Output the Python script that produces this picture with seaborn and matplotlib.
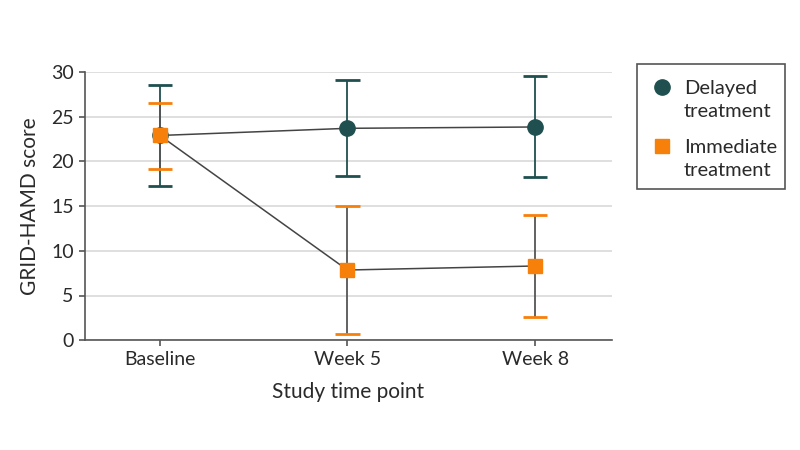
import pandas as pd
import seaborn as sns
import matplotlib.pyplot as plt
from matplotlib.patches import Rectangle
from matplotlib.lines import Line2D

# Datos
timepoints = ["Baseline", "Week 5", "Week 8"]
delayed_mean = [22.9, 23.7, 23.85]
delayed_low = [17.3, 18.4, 18.3]
delayed_high = [28.55, 29.15, 29.5]
immediate_mean = [22.9, 7.85, 8.3]
immediate_low = [19.2, 0.7, 2.65]
immediate_high = [26.5, 15.05, 14.0]
groups = ["Delayed\ntreatment", "Immediate\ntreatment"]

data = pd.DataFrame({
    "time": timepoints * 2,
    "group": [groups[0]] * 3 + [groups[1]] * 3,
    "score": delayed_mean + immediate_mean,
    "low": delayed_low + immediate_low,
    "high": delayed_high + immediate_high,
})
data["x"] = data["time"].map({t: i for i, t in enumerate(timepoints)})

sns.set_theme(style="white")
plt.rcParams["font.family"] = ["Lato", "DejaVu Sans"]

colors = {groups[0]: "#1f4f4f", groups[1]: "#f7800a"}
markers = {groups[0]: "o", groups[1]: "s"}
msize = {groups[0]: 11, groups[1]: 10.5}
bar_line = {groups[0]: "#1f4f4f", groups[1]: "#555555"}
txt = "#2a2a2a"

fig = plt.figure(figsize=(8, 4.5), dpi=100)
ax = fig.add_axes([0.106, 0.244, 0.659, 0.596])

for g in groups:
    sub = data[data["group"] == g]
    # barras de error: linea vertical y tapas
    ax.vlines(sub["x"], sub["low"], sub["high"], color=bar_line[g], lw=1.3, zorder=2)
    ax.hlines(sub["low"], sub["x"] - 0.065, sub["x"] + 0.065, color=colors[g], lw=2, zorder=2)
    ax.hlines(sub["high"], sub["x"] - 0.065, sub["x"] + 0.065, color=colors[g], lw=2, zorder=2)

for g in groups:
    sub = data[data["group"] == g]
    sns.lineplot(x="x", y="score", data=sub, ax=ax, color="#444444", lw=1.1,
                 zorder=3, legend=False)
    ax.plot(sub["x"], sub["score"], ls="none", marker=markers[g],
            markersize=msize[g], color=colors[g], zorder=4)

ax.set_xlim(-0.4, 2.41)
ax.set_ylim(0, 30)
ax.set_xticks(range(3))
ax.set_xticklabels(timepoints)
ax.set_yticks(range(0, 31, 5))
ax.yaxis.grid(True, color="#d9d9d9", lw=1.2)
ax.set_axisbelow(True)
for s in ["top", "right"]:
    ax.spines[s].set_visible(False)
for s in ["left", "bottom"]:
    ax.spines[s].set_color("#555555")
    ax.spines[s].set_linewidth(1.2)
ax.tick_params(axis="both", length=4, color="#555555", width=1.2, pad=4,
               labelsize=14, colors=txt, left=True, bottom=True)
ax.set_xlabel("Study time point", fontsize=15, color=txt, labelpad=10)
ax.set_ylabel("GRID-HAMD score", fontsize=15, color=txt, labelpad=8)

# Leyenda hecha a mano (marcador alineado con la primera linea)
W, H = 800, 450
fig.patches.append(Rectangle((637 / W, 1 - 189 / H), 148 / W, 125 / H,
                             transform=fig.transFigure, fill=False,
                             edgecolor="#555555", lw=1.2))
for g, ytop in zip(groups, [87, 146]):
    yf = 1 - ytop / H
    fig.lines.append(Line2D([662 / W], [yf], transform=fig.transFigure, ls="none",
                            marker=markers[g], color=colors[g],
                            markersize=msize[g] if g == groups[0] else 10))
    fig.text(684 / W, yf + 7 / H, g, fontsize=14.5, color=txt, va="top",
             linespacing=1.4, transform=fig.transFigure)

plt.savefig("out.png", dpi=100)
